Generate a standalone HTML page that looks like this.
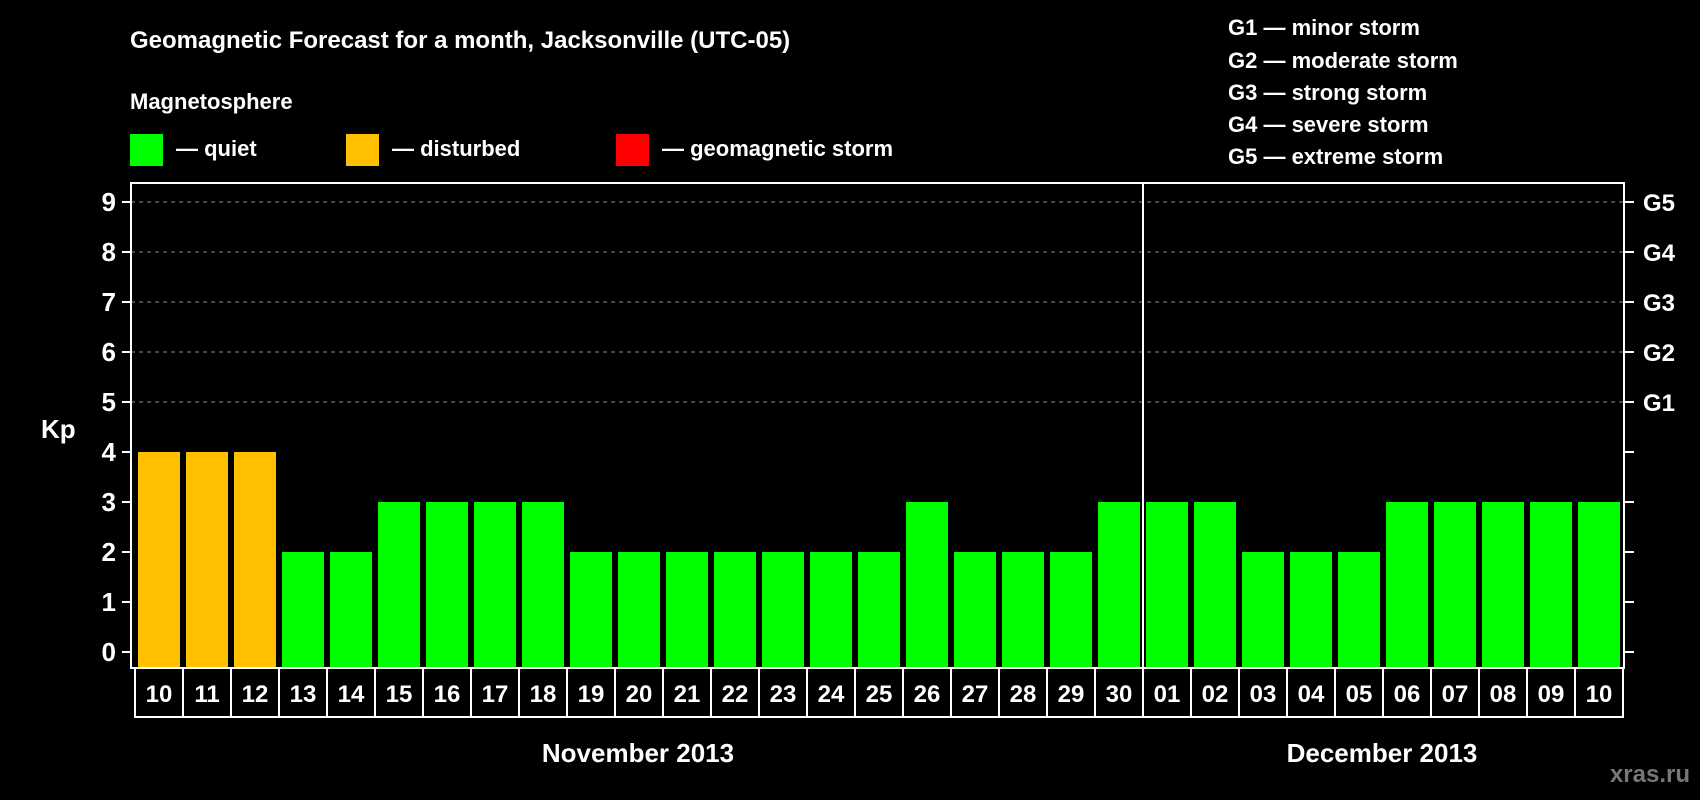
<!DOCTYPE html>
<html><head><meta charset="utf-8"><style>
body{margin:0;background:#000;width:1700px;height:800px;overflow:hidden}
svg{display:block}
text{font-family:"Liberation Sans",Arial,sans-serif;font-weight:bold;fill:#fff}
</style></head><body>
<svg id="c" width="1700" height="800">
<text x="130" y="48" font-size="24">Geomagnetic Forecast for a month, Jacksonville (UTC-05)</text>
<text x="130" y="109" font-size="22">Magnetosphere</text>
<rect x="130" y="134" width="33" height="32" fill="#00ff00"/>
<text x="176" y="156" font-size="22">— quiet</text>
<rect x="346" y="134" width="33" height="32" fill="#ffc000"/>
<text x="392" y="156" font-size="22">— disturbed</text>
<rect x="616" y="134" width="33" height="32" fill="#ff0000"/>
<text x="662" y="156" font-size="22">— geomagnetic storm</text>
<g font-size="22">
<text x="1228" y="35">G1 — minor storm</text>
<text x="1228" y="68">G2 — moderate storm</text>
<text x="1228" y="100">G3 — strong storm</text>
<text x="1228" y="132">G4 — severe storm</text>
<text x="1228" y="164">G5 — extreme storm</text>
</g>
<text x="41" y="438" font-size="26">Kp</text>
<g id="grid"></g><g id="bars"></g><g id="axes"></g>
<text x="638" y="762" font-size="26" text-anchor="middle">November 2013</text>
<text x="1382" y="762" font-size="26" text-anchor="middle">December 2013</text>
<text x="1690" y="782" font-size="24" text-anchor="end" style="fill:#777">xras.ru</text>
</svg>
<script>
const days=["10","11","12","13","14","15","16","17","18","19","20","21","22","23","24","25","26","27","28","29","30","01","02","03","04","05","06","07","08","09","10"];
const kp=[4,4,4,2,2,3,3,3,3,2,2,2,2,2,2,2,3,2,2,2,3,3,3,2,2,2,3,3,3,3,3];
const yTicks=[0,1,2,3,4,5,6,7,8,9];
const gLabels=["","","","","","G1","G2","G3","G4","G5"];
const NS="http://www.w3.org/2000/svg";
const L=131,R=1624,T=183,B=668,X0=135,SLOT=48;
const y=v=>652-50*v;
const x=i=>X0+i*SLOT;
function mk(t,a,p){const e=document.createElementNS(NS,t);for(const k in a)e.setAttribute(k,a[k]);p.appendChild(e);return e;}
const grid=document.getElementById('grid'),bars=document.getElementById('bars'),axes=document.getElementById('axes');
yTicks.forEach((v,i)=>{
 if(v>=5){const g=mk('line',{x1:L,x2:R,y1:y(v),y2:y(v),stroke:'#888','stroke-dasharray':'4,4','stroke-width':1},grid);
 
 }
 mk('line',{x1:L-9,x2:L,y1:y(v),y2:y(v),stroke:'#fff','stroke-width':2},axes);
 mk('line',{x1:R,x2:R+10,y1:y(v),y2:y(v),stroke:'#fff','stroke-width':2},axes);
 const t=mk('text',{x:L-15,y:y(v)+9,'font-size':26,'text-anchor':'end'},axes);t.textContent=v;
 
 
 if(gLabels[i]){const g=mk('text',{x:R+19,y:y(v)+9,'font-size':24},axes);g.textContent=gLabels[i];
 
 }
});
kp.forEach((v,i)=>{
 const col=v>=5?'#ff0000':v>=4?'#ffc000':'#00ff00';
 const r=mk('rect',{x:x(i)+3,y:y(v),width:42,height:B-y(v),fill:col},bars);
 
 
 mk('rect',{x:x(i),y:B,width:SLOT,height:49,fill:'none',stroke:'#fff','stroke-width':2},axes);
 const t=mk('text',{x:x(i)+SLOT/2,y:B+34,'font-size':24,'text-anchor':'middle'},axes);t.textContent=days[i];
 
 
});
const f=mk('rect',{x:L,y:T,width:R-L,height:B-T,fill:'none',stroke:'#fff','stroke-width':2},axes);


const sep=mk('line',{x1:x(21),x2:x(21),y1:T,y2:B,stroke:'#fff','stroke-width':2},axes);


</script>
</body></html>
